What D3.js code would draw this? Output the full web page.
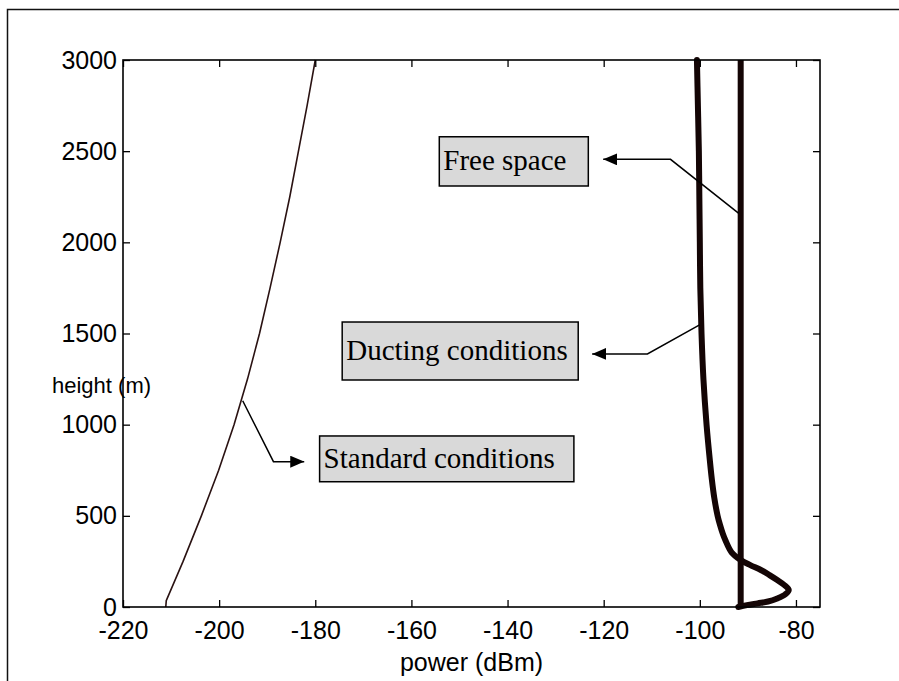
<!DOCTYPE html>
<html>
<head>
<meta charset="utf-8">
<script src="https://cdn.jsdelivr.net/npm/d3@7"></script>
<style>
  body { margin: 0; background: #fff; }
  svg { display: block; }
</style>
</head>
<body>
<div id="chart"></div>
<script>
// Data: height (m) and received power (dBm)
const standardHeight = [0, 35, 250, 500, 750, 1000, 1250, 1500, 1750, 2000, 2250, 2500, 2750, 3000];
const standardPower  = [-211.1, -211.0, -207.5, -203.7, -200.1, -196.9, -194.1, -191.6, -189.4, -187.3, -185.3, -183.5, -181.7, -180];

const ductHeight = [0, 10, 20, 30, 47, 70, 93, 120, 148, 175, 203, 230, 258, 300, 367, 400, 450, 500, 600, 700, 800, 1000, 1250, 1500, 1750, 2000, 2250, 2500, 2750, 3000];
const ductPower  = [-92, -90.2, -88, -85.8, -83.9, -82.2, -81.5, -82.4, -83.9, -85.5, -87.3, -89.5, -91.5, -93.4, -94.7, -95.2, -95.8, -96.3, -97.0, -97.5, -97.9, -98.6, -99.25, -99.65, -99.9, -100.0, -100.1, -100.2, -100.4, -100.6];

const freeHeight = [0, 3000];
const freePower  = [-91.5, -91.5];

const xTicks = [-220, -200, -180, -160, -140, -120, -100, -80];
const yTicks = [0, 500, 1000, 1500, 2000, 2500, 3000];

// annotation boxes and leader arrows, in data units
const notes = [
  { label: 'Free space', box: [-154.2, 2579, -123.2, 2309],
    arrow: [[-91.9, 2159], [-106.1, 2455], [-120.1, 2455]] },
  { label: 'Ducting conditions', box: [-174.4, 1563, -125.3, 1245],
    arrow: [[-100.05, 1547], [-110.9, 1388], [-122.4, 1388]] },
  { label: 'Standard conditions', box: [-179.1, 938, -126.2, 687],
    arrow: [[-195.1, 1131], [-188.7, 797], [-182.3, 797]] }
];

const W = 899, H = 681;
const plot = { left: 123, right: 820, top: 60, bottom: 607 };
const ink = '#140505';

const svg = d3.select('#chart').append('svg')
  .attr('width', W)
  .attr('height', H);

// outer figure frame (runs off the right and bottom of the picture)
svg.append('rect')
  .attr('x', 7.5).attr('y', 9.5)
  .attr('width', 1000).attr('height', 800)
  .attr('fill', 'none')
  .attr('stroke', '#111')
  .attr('stroke-width', 1.5);

const x = d3.scaleLinear().domain([-220, -75]).range([plot.left, plot.right]);
const y = d3.scaleLinear().domain([0, 3000]).range([plot.bottom, plot.top]);

svg.append('defs').append('marker')
  .attr('id', 'head')
  .attr('viewBox', '0 0 14 12')
  .attr('refX', 14).attr('refY', 6)
  .attr('markerWidth', 14).attr('markerHeight', 12)
  .attr('markerUnits', 'userSpaceOnUse')
  .attr('orient', 'auto')
  .append('path')
  .attr('d', 'M0,0L14,6L0,12Z')
  .attr('fill', '#000');

// curves
const hpLine = d3.line()
  .x(d => x(d[1]))
  .y(d => y(d[0]));

svg.append('path')
  .datum(d3.zip(standardHeight, standardPower))
  .attr('d', hpLine)
  .attr('fill', 'none')
  .attr('stroke', '#2a1212')
  .attr('stroke-width', 1.6)
  .attr('stroke-linejoin', 'round');

svg.append('path')
  .datum(d3.zip(freeHeight, freePower))
  .attr('d', hpLine)
  .attr('fill', 'none')
  .attr('stroke', ink)
  .attr('stroke-width', 6);

const ductLine = d3.line()
  .x(d => x(d[1]))
  .y(d => y(d[0]))
  .curve(d3.curveCatmullRom.alpha(0.5));

svg.append('path')
  .datum(d3.zip(ductHeight, ductPower))
  .attr('d', ductLine)
  .attr('fill', 'none')
  .attr('stroke', ink)
  .attr('stroke-width', 6)
  .attr('stroke-linecap', 'round')
  .attr('stroke-linejoin', 'round');

// axes box with inward ticks on all four sides
const tickLen = 7;
const axisFont = { family: 'Liberation Sans, Arial, sans-serif', size: '25px' };
const fmt = d => String(d);

svg.append('g')
  .attr('transform', `translate(0,${plot.bottom})`)
  .call(d3.axisBottom(x).tickValues(xTicks).tickSize(-tickLen).tickPadding(14).tickFormat(fmt))
  .call(g => g.select('.domain').remove());

svg.append('g')
  .attr('transform', `translate(0,${plot.top})`)
  .call(d3.axisTop(x).tickValues(xTicks).tickSize(-tickLen).tickFormat(''))
  .call(g => g.select('.domain').remove());

svg.append('g')
  .attr('transform', `translate(${plot.left},0)`)
  .call(d3.axisLeft(y).tickValues(yTicks).tickSize(-tickLen).tickPadding(6).tickFormat(fmt))
  .call(g => g.select('.domain').remove());

svg.append('g')
  .attr('transform', `translate(${plot.right},0)`)
  .call(d3.axisRight(y).tickValues(yTicks).tickSize(-tickLen).tickFormat(''))
  .call(g => g.select('.domain').remove());

svg.selectAll('.tick line').attr('stroke', '#000').attr('stroke-width', 1.3);
svg.selectAll('.tick text')
  .attr('fill', '#000')
  .style('font-family', axisFont.family)
  .style('font-size', axisFont.size);

svg.append('rect')
  .attr('x', plot.left).attr('y', plot.top)
  .attr('width', plot.right - plot.left).attr('height', plot.bottom - plot.top)
  .attr('fill', 'none')
  .attr('stroke', '#000')
  .attr('stroke-width', 1.6);

// axis labels
svg.append('text')
  .attr('x', (plot.left + plot.right) / 2)
  .attr('y', 671)
  .attr('text-anchor', 'middle')
  .style('font-family', axisFont.family)
  .style('font-size', axisFont.size)
  .text('power (dBm)');

svg.append('text')
  .attr('x', 52)
  .attr('y', 393)
  .style('font-family', axisFont.family)
  .style('font-size', '22px')
  .text('height (m)');

// annotations
const noteG = svg.selectAll('.note')
  .data(notes)
  .enter()
  .append('g')
  .attr('class', 'note');

noteG.append('rect')
  .attr('x', d => x(d.box[0]))
  .attr('y', d => y(d.box[1]))
  .attr('width', d => x(d.box[2]) - x(d.box[0]))
  .attr('height', d => y(d.box[3]) - y(d.box[1]))
  .attr('fill', '#d9d9d9')
  .attr('stroke', '#000')
  .attr('stroke-width', 1.5);

noteG.append('text')
  .attr('x', d => x(d.box[0]) + 4)
  .attr('y', d => (y(d.box[1]) + y(d.box[3])) / 2 + 9)
  .style('font-family', 'Liberation Serif, Times New Roman, serif')
  .style('font-size', '29px')
  .attr('fill', '#000')
  .text(d => d.label);

noteG.append('path')
  .attr('d', d => d3.line().x(p => x(p[0])).y(p => y(p[1]))(d.arrow))
  .attr('fill', 'none')
  .attr('stroke', '#000')
  .attr('stroke-width', 1.5)
  .attr('marker-end', 'url(#head)');
</script>
</body>
</html>
